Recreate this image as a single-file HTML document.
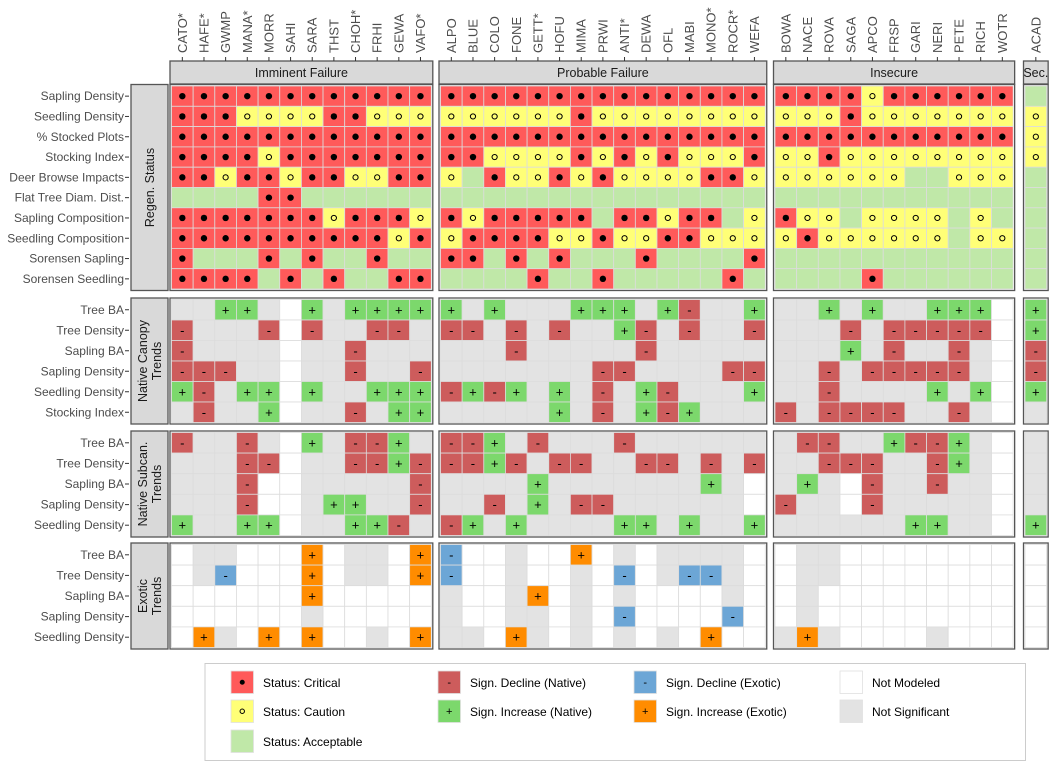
<!DOCTYPE html>
<html><head><meta charset="utf-8"><style>
html,body{margin:0;padding:0;background:#fff;}
svg{display:block;font-family:"Liberation Sans",Arial,sans-serif;}
</style></head><body>
<svg id="chart" width="1056" height="768" viewBox="0 0 1056 768" xmlns="http://www.w3.org/2000/svg"></svg>
<script>
// ---- data ----
const groupNames = ["Imminent Failure","Probable Failure","Insecure","Sec."];
const sitesImminent = ["CATO*","HAFE*","GWMP","MANA*","MORR","SAHI","SARA","THST","CHOH*","FRHI","GEWA","VAFO*"];
const sitesProbable = ["ALPO","BLUE","COLO","FONE","GETT*","HOFU","MIMA","PRWI","ANTI*","DEWA","OFL","MABI","MONO*","ROCR*","WEFA"];
const sitesInsecure = ["BOWA","NACE","ROVA","SAGA","APCO","FRSP","GARI","NERI","PETE","RICH","WOTR"];
const sitesSecure = ["ACAD"];
const panelNames = ["Regen. Status","Native Canopy|Trends","Native Subcan.|Trends","Exotic|Trends"];
const rowsRegen = ["Sapling Density","Seedling Density","% Stocked Plots","Stocking Index","Deer Browse Impacts","Flat Tree Diam. Dist.","Sapling Composition","Seedling Composition","Sorensen Sapling","Sorensen Seedling"];
const rowsCanopy = ["Tree BA","Tree Density","Sapling BA","Sapling Density","Seedling Density","Stocking Index"];
const rowsSubcan = ["Tree BA","Tree Density","Sapling BA","Sapling Density","Seedling Density"];
const rowsExotic = ["Tree BA","Tree Density","Sapling BA","Sapling Density","Seedling Density"];
// codes: C critical, W caution, A acceptable, D decline native, I increase native, d decline exotic, i increase exotic, N not significant, X not modeled
const regenImminent = ["CCCCCCCCCCCC","CCCWWWWCCWWW","CCCCCCCCCCCC","CCCCWCCCCCCC","CCWCCWCCWWCC","AAAACCAAAAAA","CCCCCCCWCCCW","CCCCCCCCCCWC","CAAACACAACAA","CCCCACACAACC"];
const regenProbable = ["CCCCCCCCCCCCCCC","WWWWWWCWWWWWWWW","CCCCCCCCCCCCCCC","CCWWWWCWCWCWWWC","WACWWCWCWWWWCCW","AAAAAAAAAAAAAAA","CWCCCCCACCWCCAW","WCCCCWWCWWCCWWW","CCACACAAACAAAAC","AAAACAACAAAAACA"];
const regenInsecure = ["CCCCWCCCCCC","WWWCWWWWWWW","CCCCCCCCCCC","WWCWWWWWWWW","WWWWWWAAWWW","AAAAAAAAAAA","CWWAWWWWAWA","WCWWWWWWAWW","AAAAAAAAAAA","AAAACAAAAAA"];
const regenSecure = ["A","W","W","W","A","A","A","A","A","A"];
const canopyImminent = ["NNIINXINIIII","DNNNDXDNNDDN","DNNNNXNNDNNN","DDDNNXNNDNND","IDNIIXINNIII","NDNNIXNNDNII"];
const canopyProbable = ["ININNNIIINIDNNI","DDNDNDNNIDNDNND","NNNDNNNNNDNNNNN","NNNNNNNDDNNNNDD","DIDININDNIDNNNI","NNNNNINDNIDINNN"];
const canopyInsecure = ["NNININNIIIX","NNNDNDDDDDX","NNNINDNNDNX","NNDNDDDDDNX","NNDNNNNINIX","DNDDDDNNDNX"];
const canopySecure = ["I","I","D","D","I","N"];
const subcanImminent = ["DNNDNXINDDIN","NNNDDXNNDDID","NNNDXXNNNNND","NNNDXXNIINND","INNIIXNNIIDN"];
const subcanProbable = ["DDINDNNNDNNNNNN","DDIDNDDNNDDNDND","NNNNINNNNNNNINX","NNDNINDDNNNNNNX","DININNNNIININNI"];
const subcanInsecure = ["NDDNNIDDINX","NNDDDNNDINX","NINXDNNDNNX","DNNXDNNNNNX","NNNNNNIINNX"];
const subcanSecure = ["N","N","N","N","I"];
const exoticImminent = ["XNNXXXiXNNXi","XNdXXXiXNNXi","XXXXXXiXXXXX","XXXXXXNXXXXX","XiNXiXiXXNXi"];
const exoticProbable = ["dXXNXXiXNXNNNNX","dXXNXXNXdXNddNX","NXXNiXNXNXXXXNX","NXXNNXNXdXXXXdX","NNXiNXNXNXNXiXX"];
const exoticInsecure = ["XNNXXXXXXXX","XNNXXXXXXXX","XNXXXXXXXXX","XNXXXXXXXXX","NiNXXXXNXXX"];
const exoticSecure = ["X","X","X","X","X"];
const legendLabels = ["Status: Critical","Status: Caution","Status: Acceptable","Sign. Decline (Native)","Sign. Increase (Native)","Sign. Decline (Exotic)","Sign. Increase (Exotic)","Not Modeled","Not Significant"];
const legendCodes = ["C","W","A","D","I","d","i","X","N"];

// ---- layout ----
const NS="http://www.w3.org/2000/svg";
const svg=document.getElementById('chart');
const fills={C:"#ff5a5a",W:"#ffff77",A:"#c0e8a8",D:"#cd5c5c",I:"#7cd86c",d:"#6ca6d6",i:"#ff8c00",N:"#e3e3e3",X:"#ffffff"};
const cellW=21.65;
const groupX=[171.5,440.5,775,1025];
const groupSites=[sitesImminent,sitesProbable,sitesInsecure,sitesSecure];
const panelY=[[86,289],[299.5,422.5],[432.5,535.5],[544.5,647.5]];
const panelRows=[rowsRegen,rowsCanopy,rowsSubcan,rowsExotic];
const panelData=[[regenImminent,regenProbable,regenInsecure,regenSecure],[canopyImminent,canopyProbable,canopyInsecure,canopySecure],[subcanImminent,subcanProbable,subcanInsecure,subcanSecure],[exoticImminent,exoticProbable,exoticInsecure,exoticSecure]];
function el(tag,attrs,parent){const e=document.createElementNS(NS,tag);for(const k in attrs)e.setAttribute(k,attrs[k]);(parent||svg).appendChild(e);return e;}
function xScale(g,c){return groupX[g]+c*cellW;}
function yScale(p,r){const n=panelRows[p].length;return panelY[p][0]+r*(panelY[p][1]-panelY[p][0])/n;}
function rowH(p){return (panelY[p][1]-panelY[p][0])/panelRows[p].length;}
function drawMark(code,cx,cy,parent){
  if(code==="C"){const m=el('circle',{cx:cx,cy:cy,r:3.2,fill:"#000"},parent);}
  else if(code==="W"){const m=el('circle',{cx:cx,cy:cy,r:2.6,fill:"none",stroke:"#000","stroke-width":1},parent);}
  else if(code==="D"||code==="d"||code==="I"||code==="i"){const t=el('text',{x:cx,y:cy+4.5,"text-anchor":"middle","font-size":13,fill:"#000"},parent);t.textContent=(code==="D"||code==="d")?"-":"+";}
}
// column labels and strips
groupSites.forEach((sites,g)=>{
  const x0=groupX[g], x1=x0+sites.length*cellW;
  const strip=el('rect',{x:x0-1.5,y:61,width:x1-x0+3,height:23,fill:"#d9d9d9",stroke:"#555","stroke-width":1.3});
  
  
  const st=el('text',{x:(x0+x1)/2,y:77,"text-anchor":"middle","font-size":12.5,fill:"#1a1a1a"});
  st.textContent=groupNames[g];
  
  
  sites.forEach((s,c)=>{
    const cx=xScale(g,c)+cellW/2;
    el('line',{x1:cx,x2:cx,y1:57,y2:61,stroke:"#333","stroke-width":1});
    const t=el('text',{x:0,y:0,transform:`translate(${cx+4.5},53) rotate(-90)`,"font-size":13,fill:"#4d4d4d"});
    t.textContent=s;
    
    
  });
});
// panels
panelRows.forEach((rows,p)=>{
  const y0=panelY[p][0],y1=panelY[p][1],h=rowH(p);
  const rs=el('rect',{x:131,y:y0-1.5,width:37,height:y1-y0+3,fill:"#d9d9d9",stroke:"#555","stroke-width":1.3});
  
  
  const lines=panelNames[p].split("|");
  lines.forEach((ln,i)=>{
    const off=(i-(lines.length-1)/2)*14;
    const t=el('text',{x:0,y:0,transform:`translate(${149.5+off+4.5},${(y0+y1)/2}) rotate(-90)`,"text-anchor":"middle","font-size":12.5,fill:"#1a1a1a"});
    t.textContent=ln;
    
    
  });
  rows.forEach((r,ri)=>{
    const cy=yScale(p,ri)+h/2;
    el('line',{x1:125,x2:129,y1:cy,y2:cy,stroke:"#333","stroke-width":1});
    const t=el('text',{x:124,y:cy+4,"text-anchor":"end","font-size":12,fill:"#4d4d4d"});
    t.textContent=r;
    
    
  });
  groupSites.forEach((sites,g)=>{
    const grp=el('g',{});
    
    
    const data=panelData[p][g];
    data.forEach((rowStr,ri)=>{
      for(let c=0;c<sites.length;c++){
        const code=rowStr[c]||"X";
        const x=xScale(g,c),y=yScale(p,ri);
        const cell=el('rect',{x:x,y:y,width:cellW,height:h,fill:fills[code],stroke:"#dcdcdc","stroke-width":0.8},grp);
        
        
        drawMark(code,x+cellW/2,y+h/2,grp);
      }
    });
    el('rect',{x:groupX[g]-1.5,y:y0-1.5,width:sites.length*cellW+3,height:y1-y0+3,fill:"none",stroke:"#555","stroke-width":1.3});
  });
});
// legend
const lg=el('g',{});


el('rect',{x:205,y:663.5,width:820.5,height:97,fill:"#fff",stroke:"#ccc","stroke-width":1},lg);
const legCols=[231,438,634,840],legRows=[671,700,730];
const legPos=[[0,0],[0,1],[0,2],[1,0],[1,1],[2,0],[2,1],[3,0],[3,1]];
legendLabels.forEach((lab,i)=>{
  const [ci,ri]=legPos[i];
  const x=legCols[ci],y=legRows[ri];
  const k=el('rect',{x:x,y:y,width:22.5,height:22.5,fill:fills[legendCodes[i]],stroke:"#e0e0e0","stroke-width":0.8},lg);
  
  
  const c=legendCodes[i];
  if(c==="C")el('circle',{cx:x+11.25,cy:y+11.25,r:2.5,fill:"#000"},lg);
  else if(c==="W")el('circle',{cx:x+11.25,cy:y+11.25,r:2.2,fill:"none",stroke:"#000","stroke-width":1},lg);
  else if("DdIi".includes(c)){const s=el('text',{x:x+11.25,y:y+15,"text-anchor":"middle","font-size":11,fill:"#000"},lg);s.textContent=(c==="D"||c==="d")?"-":"+";}
  const t=el('text',{x:x+32,y:y+16,"font-size":12,fill:"#000"},lg);
  t.textContent=lab;
  
  
});
</script>
</body></html>
